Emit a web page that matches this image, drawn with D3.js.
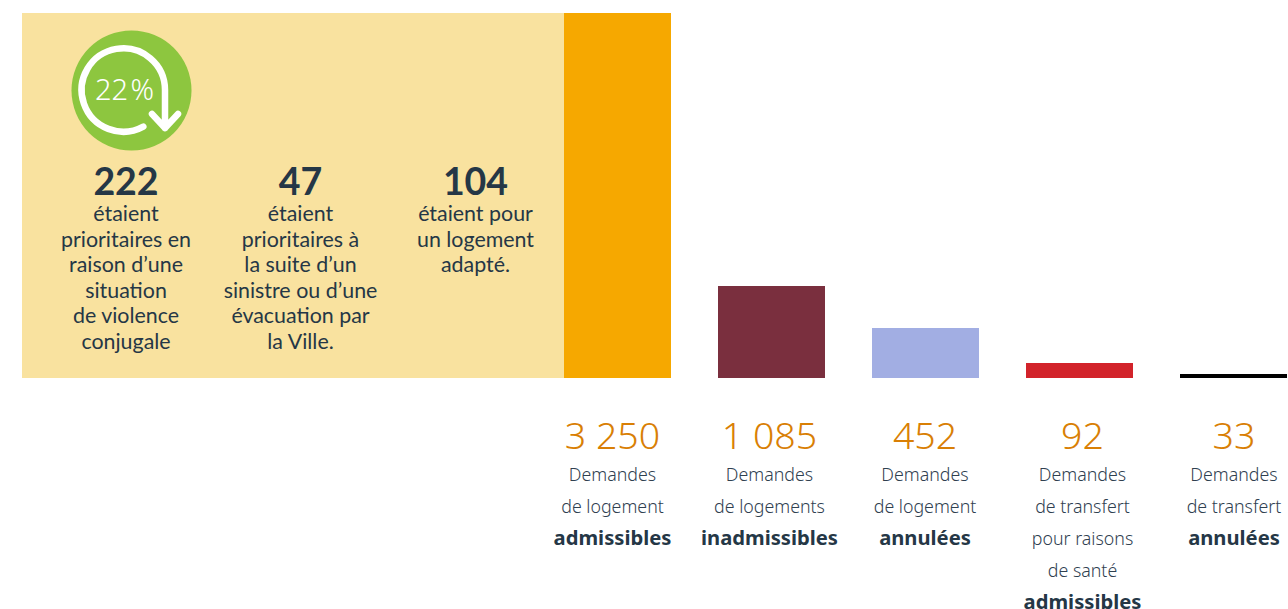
<!DOCTYPE html>
<html lang="fr">
<head>
<meta charset="utf-8">
<script src="https://cdn.jsdelivr.net/npm/d3@7"></script>
<style>
html,body{margin:0;padding:0;background:#fff;overflow:hidden}
svg{display:block}
</style>
</head>
<body>
<svg id="chart" width="1288" height="609"></svg>
<script>
// Demandes de logement par catégorie
const categories = ["admissibles", "inadmissibles", "annuleesLogement", "transfertSante", "annuleesTransfert"];
const values = [3250, 1085, 452, 92, 33];
const valueLabels = ["3 250", "1 085", "452", "92", "33"];
const barColors = ["#f6a800", "#7a2f3e", "#a2aee3", "#d2232a", "#000000"];
const regularLines = [
  ["Demandes", "de logement"],
  ["Demandes", "de logements"],
  ["Demandes", "de logement"],
  ["Demandes", "de transfert", "pour raisons", "de santé"],
  ["Demandes", "de transfert"]
];
const boldLines = ["admissibles", "inadmissibles", "annulées", "admissibles", "annulées"];

// Détail des demandes admissibles
const detailCounts = ["222", "47", "104"];
const detailLines = [
  ["étaient", "prioritaires en", "raison d’une", "situation", "de violence", "conjugale"],
  ["étaient", "prioritaires à", "la suite d’un", "sinistre ou d’une", "évacuation par", "la Ville."],
  ["étaient pour", "un logement", "adapté."]
];
const detailShare = "22 %";

const INK = "#253746";
const ORANGE = "#d97f05";
const BAR_FONT = "'Noto Sans', sans-serif";
const PANEL_FONT = "Lato, sans-serif";

const svg = d3.select("#chart");
const baseline = 378;

const x = d3.scaleBand().domain(categories).range([564, 1287]).paddingInner(47 / 154).paddingOuter(0);

// Échelle par paliers : les hauteurs ne sont pas proportionnelles aux valeurs
const height = d3.scaleLinear().domain([0, 33, 92, 452, 1085, 3250]).range([0, 4, 15, 50, 92, 365]);

// Panneau de détail accolé à la première barre
const panelLeft = 22;
svg.append("rect")
  .attr("x", panelLeft).attr("y", baseline - height(values[0]))
  .attr("width", x(categories[0]) - panelLeft).attr("height", height(values[0]))
  .attr("fill", "#f9e29f");

svg.selectAll("rect.bar").data(values).join("rect")
  .attr("class", "bar")
  .attr("x", (d, i) => x(categories[i]))
  .attr("y", d => baseline - height(d))
  .attr("width", x.bandwidth())
  .attr("height", d => height(d))
  .attr("fill", (d, i) => barColors[i]);

// Étiquettes sous les barres, légèrement décalées par rapport au centre de chaque barre
const labelNudge = [-5, -2, -0.5, 3, 0.5];
const labels = svg.selectAll("g.label").data(categories).join("g")
  .attr("class", "label")
  .attr("transform", (d, i) => `translate(${x(d) + x.bandwidth() / 2 + labelNudge[i]},0)`)
  .attr("text-anchor", "middle");

labels.append("text")
  .attr("y", 449)
  .attr("font-family", BAR_FONT).attr("font-weight", 300).attr("font-size", 37.5)
  .attr("fill", ORANGE)
  .text((d, i) => valueLabels[i]);

labels.each(function (d, i) {
  const g = d3.select(this);
  regularLines[i].forEach((line, j) => {
    g.append("text")
      .attr("y", 481 + j * 32)
      .attr("font-family", BAR_FONT).attr("font-weight", 300).attr("font-size", 17.8)
      .attr("fill", "#2f4050")
      .text(line);
  });
  g.append("text")
    .attr("y", 482 + regularLines[i].length * 31.7)
    .attr("font-family", BAR_FONT).attr("font-weight", 700).attr("font-size", 20.2)
    .attr("fill", INK)
    .text(boldLines[i]);
});

// Colonnes de texte du panneau
const columnX = [126, 300.5, 475.5];
const columns = svg.selectAll("g.detail").data(detailCounts).join("g")
  .attr("class", "detail")
  .attr("transform", (d, i) => `translate(${columnX[i]},0)`)
  .attr("text-anchor", "middle")
  .attr("fill", INK);

columns.append("text")
  .attr("y", 195)
  .attr("font-family", PANEL_FONT).attr("font-weight", 700).attr("font-size", 37.5)
  .text(d => d);

columns.each(function (d, i) {
  d3.select(this).selectAll("text.line").data(detailLines[i]).join("text")
    .attr("class", "line")
    .attr("y", (l, j) => 221 + j * 25.5)
    .attr("font-family", PANEL_FONT).attr("font-size", 21.4)
    .text(l => l);
});

// Pastille 22 % avec sa flèche circulaire
const badge = svg.append("g");
badge.append("circle").attr("cx", 131.5).attr("cy", 90.5).attr("r", 60).attr("fill", "#8dc63f");

const arc = d3.path();
arc.arc(123.3, 90, 41.7, 1.07, 0, false);
arc.lineTo(165, 128);
arc.moveTo(152, 114);
arc.lineTo(165, 128);
arc.lineTo(178, 114);
badge.append("path")
  .attr("d", arc.toString())
  .attr("fill", "none").attr("stroke", "#fff").attr("stroke-width", 6.5)
  .attr("stroke-linecap", "round").attr("stroke-linejoin", "round");

badge.append("text")
  .attr("x", 124.5).attr("y", 100)
  .attr("text-anchor", "middle")
  .attr("font-family", BAR_FONT).attr("font-weight", 300).attr("font-size", 29)
  .attr("word-spacing", -5)
  .attr("fill", "#fff")
  .text(detailShare);
</script>
</body>
</html>
